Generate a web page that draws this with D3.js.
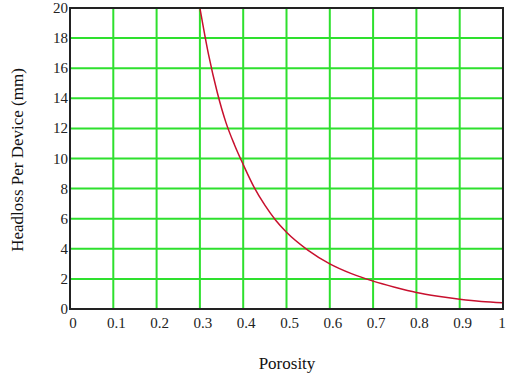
<!DOCTYPE html>
<html>
<head>
<meta charset="utf-8">
<script src="https://cdn.jsdelivr.net/npm/d3@7"></script>
<style>
	body { margin: 0; background: #fff; }
	svg { display: block; }
	text { font-family: "Liberation Serif", "Times New Roman", "DejaVu Serif", serif; }
</style>
</head>
<body>
<div id="viz"></div>
<script>
// values
let porosity = [0.30, 0.32, 0.34, 0.36, 0.38, 0.40, 0.425, 0.45, 0.475, 0.50, 0.55, 0.60, 0.65, 0.70, 0.75, 0.80, 0.85, 0.90, 0.95, 1.00];
let headloss = [20.0, 16.9, 14.4, 12.4, 10.9, 9.6, 8.1, 6.9, 5.9, 5.1, 3.9, 3.0, 2.35, 1.85, 1.45, 1.1, 0.85, 0.65, 0.5, 0.42];
let xTicks = [0, 0.1, 0.2, 0.3, 0.4, 0.5, 0.6, 0.7, 0.8, 0.9, 1];
let yTicks = [0, 2, 4, 6, 8, 10, 12, 14, 16, 18, 20];

function draw() {
	let width = 507, height = 379;
	let left = 70, right = 503, top = 8, bottom = 309;

	let svg = d3.select("#viz").append("svg")
		.attr("width", width).attr("height", height);

	let x = d3.scaleLinear().domain([0, 1]).range([left, right]);
	let y = d3.scaleLinear().domain([0, 20]).range([bottom, top]);

	// grid
	svg.append("g").selectAll("line").data(xTicks.slice(1, -1)).join("line")
		.attr("x1", d => x(d)).attr("x2", d => x(d))
		.attr("y1", top).attr("y2", bottom)
		.attr("stroke", "#2ee02e").attr("stroke-width", 2);

	svg.append("g").selectAll("line").data(yTicks.slice(1, -1)).join("line")
		.attr("x1", left).attr("x2", right)
		.attr("y1", d => y(d)).attr("y2", d => y(d))
		.attr("stroke", "#2ee02e").attr("stroke-width", 2);

	// curve
	let line = d3.line()
		.x((d, i) => x(porosity[i]))
		.y(d => y(d))
		.curve(d3.curveMonotoneX);

	svg.append("path").datum(headloss)
		.attr("d", line)
		.attr("fill", "none")
		.attr("stroke", "#c8102e")
		.attr("stroke-width", 1.5);

	// frame
	svg.append("rect")
		.attr("x", left).attr("y", top)
		.attr("width", right - left).attr("height", bottom - top)
		.attr("fill", "none")
		.attr("stroke", "#222").attr("stroke-width", 2);

	// tick labels
	svg.append("g").selectAll("text").data(xTicks).join("text")
		.text(d => d)
		.attr("x", d => Math.min(x(d) + 3, 502)).attr("y", 328)
		.attr("text-anchor", "middle")
		.style("font-size", "15px")
		.style("fill", "#222");

	svg.append("g").selectAll("text").data(yTicks).join("text")
		.text(d => d)
		.attr("x", 68).attr("y", d => y(d) + 5)
		.attr("text-anchor", "end")
		.style("font-size", "15px")
		.style("fill", "#222");

	// axis titles
	svg.append("text").text("Porosity")
		.attr("x", 287).attr("y", 369)
		.attr("text-anchor", "middle")
		.style("font-size", "17px")
		.style("fill", "#111");

	svg.append("text").text("Headloss Per Device (mm)")
		.attr("transform", "translate(23,160) rotate(-90)")
		.attr("text-anchor", "middle")
		.style("font-size", "17px")
		.style("fill", "#111");
}
draw();
</script>
</body>
</html>
